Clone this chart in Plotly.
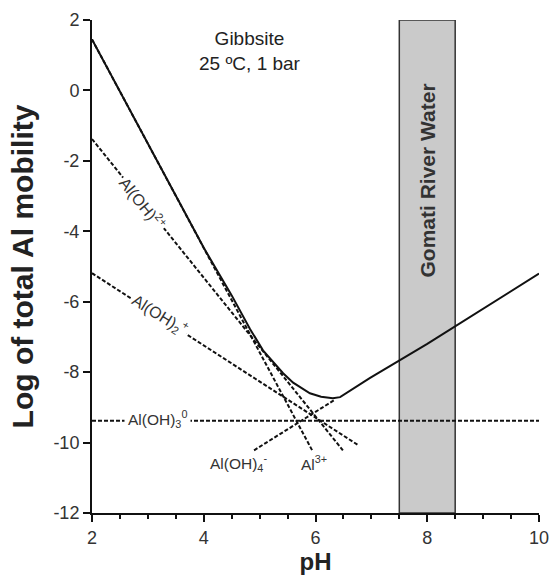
import plotly.graph_objects as go

# ---- data ----
ph_total = [2.0, 3.0, 4.0, 4.5, 4.83, 5.06, 5.25, 5.42, 5.6, 5.9, 6.1, 6.31, 6.44, 6.97, 8.0, 9.0, 10.0]
log_total = [1.45, -1.51, -4.47, -5.82, -6.78, -7.38, -7.74, -8.03, -8.3, -8.6, -8.7, -8.74, -8.71, -8.17, -7.2, -6.2, -5.2]

al3_ph = [2.0, 5.94]
al3_log = [1.45, -10.22]
aloh_ph = [2.0, 6.49]
aloh_log = [-1.38, -10.22]
aloh2_ph = [2.0, 6.76]
aloh2_log = [-5.19, -10.07]
aloh3_ph = [2.0, 10.0]
aloh3_log = [-9.38, -9.38]
aloh4_ph = [4.9, 6.33]
aloh4_log = [-10.22, -8.8]

river_ph = [7.5, 8.5]
y_range = [-12, 2]
x_range = [2, 10]
x_ticks = [2, 4, 6, 8, 10]
y_ticks = [2, 0, -2, -4, -6, -8, -10, -12]
y_ticklabels = ["2", "0", "-2", "-4", "-6", "-8", "-10", "-12"]

FONT = "Liberation Sans, Arial, sans-serif"
DASH = "4px,2px"

fig = go.Figure()

for xs, ys in [(al3_ph, al3_log), (aloh_ph, aloh_log), (aloh2_ph, aloh2_log),
               (aloh3_ph, aloh3_log), (aloh4_ph, aloh4_log)]:
    fig.add_trace(go.Scatter(x=xs, y=ys, mode="lines",
                             line=dict(color="#111", width=2, dash=DASH),
                             hoverinfo="skip", showlegend=False))

fig.add_trace(go.Scatter(x=ph_total, y=log_total, mode="lines",
                         line=dict(color="#111", width=2),
                         showlegend=False))

fig.add_shape(type="rect", x0=river_ph[0], x1=river_ph[1], y0=y_range[0], y1=y_range[1],
              xref="x", yref="y", fillcolor="#cacaca", line=dict(color="#333", width=1.5),
              layer="below")

lab_font = dict(family=FONT, size=15.5, color="#333")
ann = [
    dict(x=4.83, y=1.12, text="Gibbsite<br>25 ºC, 1 bar", font=dict(family=FONT, size=19, color="#222"),
         showarrow=False),
    dict(x=8.0, y=-2.55, text="<b>Gomati River Water</b>", textangle=-90,
         font=dict(family=FONT, size=21, color="#333"), showarrow=False),
    dict(x=2.91, y=-3.2, text="Al(OH)<sup>2+</sup>", textangle=51,
         font=dict(family=FONT, size=16, color="#333"), showarrow=False, bgcolor="white"),
    dict(x=3.22, y=-6.38, text="Al(OH)<sub>2</sub><sup>+</sup>", textangle=32,
         font=dict(family=FONT, size=16, color="#333"), showarrow=False, bgcolor="white"),
    dict(x=3.17, y=-9.33, text="Al(OH)<sub>3</sub><sup>0</sup>", font=lab_font,
         showarrow=False, bgcolor="white", borderpad=3),
    dict(x=4.62, y=-10.58, text="Al(OH)<sub>4</sub><sup>-</sup>", font=lab_font, showarrow=False),
    dict(x=5.97, y=-10.58, text="Al<sup>3+</sup>", font=lab_font, showarrow=False),
]
for a in ann:
    a.update(xref="x", yref="y")
fig.update_layout(annotations=ann)

fig.update_layout(
    width=550, height=576,
    margin=dict(l=92, r=11, t=20, b=63, autoexpand=False),
    paper_bgcolor="white", plot_bgcolor="white",
    font=dict(family=FONT, color="#333"),
)
fig.update_xaxes(range=x_range, tickvals=x_ticks, showgrid=False, zeroline=False, automargin=False,
                 showline=True, linecolor="#111", linewidth=2,
                 ticks="outside", ticklen=7, tickwidth=2, tickcolor="#111",
                 minor=dict(dtick=0.5, tick0=2, ticks="outside", ticklen=4, tickwidth=2, tickcolor="#111"),
                 tickfont=dict(family=FONT, size=18, color="#333"),
                 title=dict(text="<b>pH</b>", font=dict(family=FONT, size=24, color="#222"), standoff=6))
fig.update_yaxes(range=y_range, tickvals=y_ticks, ticktext=y_ticklabels,
                 showgrid=False, zeroline=False, automargin=False,
                 showline=True, linecolor="#111", linewidth=2,
                 ticks="outside", ticklen=7, tickwidth=2, tickcolor="#111",
                 tickfont=dict(family=FONT, size=18, color="#333"),
                 title=dict(text="<b>Log of total Al mobility</b>",
                            font=dict(family=FONT, size=30, color="#222"), standoff=11))

# remove the default page margin so the 550x576 figure fills the window exactly
fig.write_html("out.html", config={"displayModeBar": False},
               post_script="document.body.style.margin='0';document.body.style.overflow='hidden';")
